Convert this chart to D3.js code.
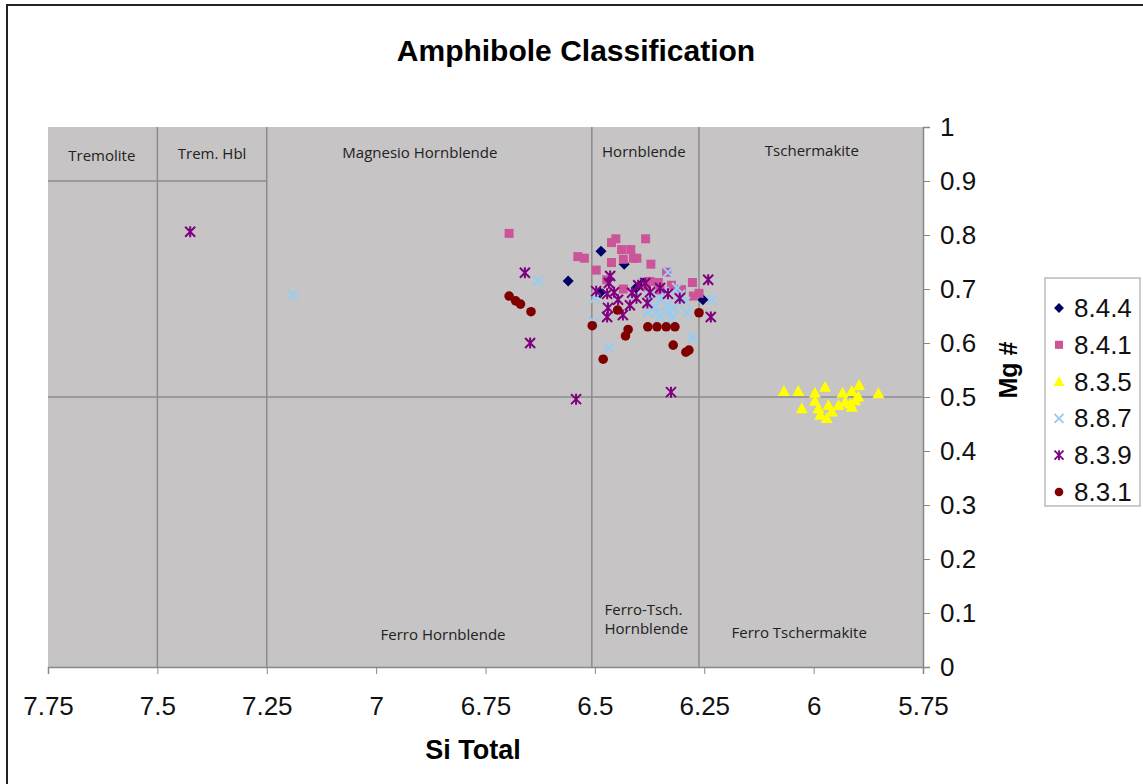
<!DOCTYPE html>
<html>
<head>
<meta charset="utf-8">
<script src="https://cdn.jsdelivr.net/npm/d3@7"></script>
<style>
  body { margin: 0; background: #fff; }
  text { font-family: "Liberation Sans", Arial, sans-serif; }
  .region { font-family: "Open Sans", Lato, sans-serif; font-size: 15px; fill: #222; }
</style>
</head>
<body>
<svg id="chart" width="1143" height="784"></svg>
<script>
// series, [Si total, Mg#]
const s844 = [[6.561, 0.715], [6.486, 0.770], [6.433, 0.746], [6.406, 0.702], [6.488, 0.693],
  [6.390, 0.711], [6.253, 0.680]];
const s841 = [[6.696, 0.803], [6.539, 0.760], [6.524, 0.757], [6.462, 0.786], [6.452, 0.793],
  [6.384, 0.793], [6.439, 0.773], [6.418, 0.773], [6.462, 0.749], [6.435, 0.755], [6.412, 0.757],
  [6.404, 0.757], [6.372, 0.746], [6.497, 0.735], [6.473, 0.717], [6.435, 0.700], [6.374, 0.714],
  [6.355, 0.712], [6.336, 0.731], [6.325, 0.707], [6.302, 0.699], [6.277, 0.712], [6.275, 0.687],
  [6.262, 0.692], [6.382, 0.704], [6.351, 0.698]];
const s835 = [[6.068, 0.511], [6.035, 0.511], [5.974, 0.519], [5.997, 0.508], [5.896, 0.522],
  [5.852, 0.507], [5.934, 0.508], [5.913, 0.511], [6.027, 0.479], [5.997, 0.493], [5.989, 0.479],
  [5.985, 0.467], [5.970, 0.461], [5.966, 0.485], [5.958, 0.473], [5.943, 0.485], [5.928, 0.491],
  [5.916, 0.488], [5.905, 0.494], [5.898, 0.501], [5.913, 0.482]];
const s887 = [[7.190, 0.689], [6.630, 0.715], [6.500, 0.683], [6.502, 0.639], [6.468, 0.591],
  [6.333, 0.731], [6.312, 0.702], [6.276, 0.609], [6.232, 0.680], [6.305, 0.689], [6.351, 0.680],
  [6.363, 0.667], [6.335, 0.670], [6.321, 0.665], [6.289, 0.656], [6.379, 0.657], [6.351, 0.648],
  [6.324, 0.646], [6.294, 0.676], [6.358, 0.656], [6.328, 0.656], [6.342, 0.694], [6.374, 0.687]];
const s839 = [[7.425, 0.806], [6.660, 0.730], [6.648, 0.600], [6.543, 0.496], [6.326, 0.509],
  [6.465, 0.724], [6.468, 0.711], [6.497, 0.696], [6.472, 0.691], [6.447, 0.680], [6.470, 0.665],
  [6.472, 0.648], [6.436, 0.652], [6.420, 0.670], [6.415, 0.693], [6.401, 0.707], [6.405, 0.683],
  [6.380, 0.674], [6.374, 0.694], [6.351, 0.702], [6.333, 0.691], [6.306, 0.683], [6.241, 0.717],
  [6.235, 0.648], [6.456, 0.694], [6.385, 0.711]];
const s831 = [[6.696, 0.687], [6.681, 0.678], [6.670, 0.672], [6.646, 0.658], [6.506, 0.632],
  [6.448, 0.661], [6.424, 0.625], [6.430, 0.613], [6.481, 0.570], [6.379, 0.630], [6.358, 0.630],
  [6.337, 0.630], [6.317, 0.630], [6.321, 0.596], [6.292, 0.583], [6.285, 0.587], [6.262, 0.656]];

const seriesNames = ['8.4.4', '8.4.1', '8.3.5', '8.8.7', '8.3.9', '8.3.1'];
const seriesData = [s844, s841, s835, s887, s839, s831];

const xTicks = [7.75, 7.5, 7.25, 7, 6.75, 6.5, 6.25, 6, 5.75];
const yTicks = [0, 0.1, 0.2, 0.3, 0.4, 0.5, 0.6, 0.7, 0.8, 0.9, 1];

// classification field boundaries (Si, Mg#)
const boundaries = [
  [7.5, 0, 7.5, 1], [7.25, 0, 7.25, 1], [6.507, 0, 6.507, 1], [6.262, 0, 6.262, 1],
  [7.75, 0.9, 7.25, 0.9], [7.75, 0.5, 5.75, 0.5]];
const fieldNames = ['Tremolite', 'Trem. Hbl', 'Magnesio Hornblende', 'Hornblende', 'Tschermakite',
  'Ferro Hornblende', 'Ferro Tschermakite'];
const fieldPos = [[7.627, 0.948], [7.375, 0.952], [6.900, 0.954], [6.388, 0.956], [6.004, 0.957],
  [6.847, 0.061], [6.033, 0.065]];
const ftLines = ['Ferro-Tsch.', 'Hornblende'];
const ftPos = [6.478, 0.096];

const style = {
  '8.4.4': { shape: 'diamond', color: '#000066' },
  '8.4.1': { shape: 'square', color: '#cc5599' },
  '8.3.5': { shape: 'triangle', color: '#ffff00' },
  '8.8.7': { shape: 'cross', color: '#99ccee' },
  '8.3.9': { shape: 'star', color: '#800080' },
  '8.3.1': { shape: 'circle', color: '#800000' }
};

const svg = d3.select('#chart');
const margin = { top: 127, left: 48 };
const width = 875;
const height = 540;

svg.append('rect')
  .attr('x', 7).attr('y', 5).attr('width', 1160).attr('height', 800)
  .attr('fill', '#fff').attr('stroke', '#222').attr('stroke-width', 2);

svg.append('text')
  .attr('x', 576).attr('y', 61)
  .attr('text-anchor', 'middle')
  .attr('font-size', 30).attr('font-weight', 'bold')
  .text('Amphibole Classification');

const g = svg.append('g').attr('transform', `translate(${margin.left},${margin.top})`);

const x = d3.scaleLinear().domain([7.75, 5.75]).range([0, width]);
const y = d3.scaleLinear().domain([0, 1]).range([height, 0]);

g.append('rect')
  .attr('width', width).attr('height', height)
  .attr('fill', '#c6c4c4');

g.selectAll('.bound')
  .data(boundaries)
  .enter().append('line')
  .attr('class', 'bound')
  .attr('x1', d => x(d[0])).attr('y1', d => y(d[1]))
  .attr('x2', d => x(d[2])).attr('y2', d => y(d[3]))
  .attr('stroke', '#8c8c8c').attr('stroke-width', 1.5);

g.selectAll('.field')
  .data(fieldNames)
  .enter().append('text')
  .attr('class', 'region')
  .attr('x', (d, i) => x(fieldPos[i][0]))
  .attr('y', (d, i) => y(fieldPos[i][1]))
  .attr('text-anchor', 'middle')
  .attr('dominant-baseline', 'central')
  .text(d => d);

g.append('text')
  .attr('class', 'region')
  .attr('x', x(ftPos[0]))
  .attr('y', y(ftPos[1]))
  .selectAll('tspan')
  .data(ftLines)
  .enter().append('tspan')
  .attr('x', x(ftPos[0]))
  .attr('dy', (d, i) => (i ? 19 : 0))
  .text(d => d);

// axes
const xAxis = g.append('g')
  .attr('transform', `translate(0,${height})`)
  .call(d3.axisBottom(x).tickValues(xTicks).tickSize(7).tickPadding(23).tickFormat(d3.format('')));
const yAxis = g.append('g')
  .attr('transform', `translate(${width},0)`)
  .call(d3.axisRight(y).tickValues(yTicks).tickSize(7).tickPadding(10).tickFormat(d3.format('')));

[xAxis, yAxis].forEach((a) => {
  a.select('.domain').attr('stroke', '#888').attr('stroke-width', 1.5);
  a.selectAll('.tick line').attr('stroke', '#888');
  a.selectAll('.tick text')
    .attr('font-family', '"Liberation Sans", Arial, sans-serif')
    .attr('font-size', 26).attr('fill', '#111');
});

svg.append('text')
  .attr('x', 473).attr('y', 759)
  .attr('text-anchor', 'middle')
  .attr('font-size', 27).attr('font-weight', 'bold')
  .text('Si Total');

svg.append('text')
  .attr('transform', 'translate(1017,370) rotate(-90)')
  .attr('text-anchor', 'middle')
  .attr('font-size', 25).attr('font-weight', 'bold')
  .text('Mg #');

// marker drawing
function marker(sel, shape, color) {
  if (shape === 'diamond') {
    sel.append('path').attr('d', 'M0,-5.5L5.5,0L0,5.5L-5.5,0Z').attr('fill', color);
  } else if (shape === 'square') {
    sel.append('rect').attr('x', -4.5).attr('y', -4.5).attr('width', 9).attr('height', 9).attr('fill', color);
  } else if (shape === 'triangle') {
    sel.append('path').attr('d', 'M0,-6L6,5L-6,5Z').attr('fill', color);
  } else if (shape === 'cross') {
    sel.append('path').attr('d', 'M-5,-5L5,5M5,-5L-5,5')
      .attr('stroke', color).attr('stroke-width', 2.2).attr('fill', 'none');
  } else if (shape === 'star') {
    sel.append('path').attr('d', 'M0,-5.5L0,5.5M-5,-5L5,5M5,-5L-5,5')
      .attr('stroke', color).attr('stroke-width', 2).attr('fill', 'none');
  } else {
    sel.append('circle').attr('r', 4.8).attr('fill', color);
  }
}

seriesNames.forEach((name, i) => {
  const st = style[name];
  g.append('g')
    .selectAll('g')
    .data(seriesData[i])
    .enter().append('g')
    .attr('transform', d => `translate(${x(d[0])},${y(d[1])})`)
    .each(function () { marker(d3.select(this), st.shape, st.color); });
});

// legend
const legend = svg.append('g').attr('transform', 'translate(1045,278)');
legend.append('rect')
  .attr('width', 95).attr('height', 228)
  .attr('fill', '#fff').attr('stroke', '#999');
const item = legend.selectAll('.item')
  .data(seriesNames)
  .enter().append('g')
  .attr('class', 'item')
  .attr('transform', (d, i) => `translate(0,${30 + i * 36.8})`);
item.append('g')
  .attr('transform', 'translate(14,0) scale(0.9)')
  .each(function (d) { marker(d3.select(this), style[d].shape, style[d].color); });
item.append('text')
  .attr('x', 29).attr('y', 9)
  .attr('font-size', 26).attr('fill', '#111')
  .text(d => d);
</script>
</body>
</html>
